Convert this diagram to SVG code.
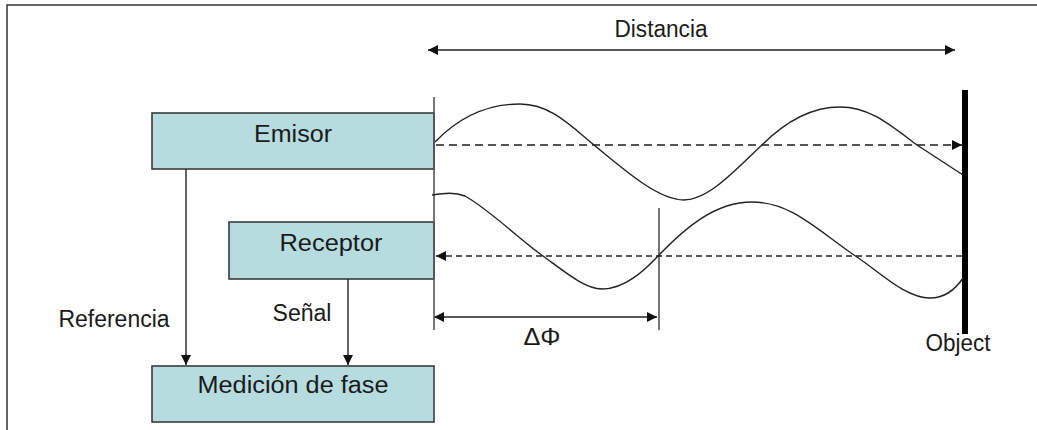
<svg xmlns="http://www.w3.org/2000/svg" width="1037" height="430" viewBox="0 0 1037 430">
<style>
.box{fill:#b6dce0;stroke:#3a3a3a;stroke-width:1.6}
.t{font-family:"Liberation Sans",Arial,sans-serif;font-size:23px;fill:#1a1a1a;text-anchor:middle}
.ln{stroke:#222;stroke-width:1.4;fill:none}
.wave{stroke:#222;stroke-width:1.4;fill:none}
</style>
<defs>
<marker id="ah" viewBox="0 0 10 10" refX="10" refY="5" markerWidth="12" markerHeight="10" markerUnits="userSpaceOnUse" orient="auto-start-reverse">
<path d="M0,0 L10,5 L0,10 Z" fill="#111"/>
</marker>
</defs>
<rect width="1037" height="430" fill="#fff"/>
<path d="M7,430 V5 H1037" stroke="#333" stroke-width="1.5" fill="none"/>

<g id="emisor">
<rect class="box" x="152" y="113" width="282" height="56"/>
<text class="t" x="293" y="142" textLength="78" lengthAdjust="spacingAndGlyphs">Emisor</text>
</g>
<g id="receptor">
<rect class="box" x="229" y="222" width="205" height="57"/>
<text class="t" x="331" y="251" textLength="103" lengthAdjust="spacingAndGlyphs">Receptor</text>
</g>
<g id="medicion">
<rect class="box" x="152" y="366" width="282" height="56"/>
<text class="t" x="293" y="393" textLength="191" lengthAdjust="spacingAndGlyphs">Medición de fase</text>
</g>
<g id="object">
<rect x="962" y="90" width="6" height="244" fill="#000"/>
<text class="t" x="958" y="351" textLength="65" lengthAdjust="spacingAndGlyphs">Object</text>
</g>

<g id="connectors">
<line class="ln" x1="186" y1="169" x2="186" y2="365" marker-end="url(#ah)"/>
<line class="ln" x1="348" y1="279" x2="348" y2="365" marker-end="url(#ah)"/>
<line class="ln" x1="428" y1="50" x2="955" y2="50" marker-start="url(#ah)" marker-end="url(#ah)"/>
<line class="ln" x1="434" y1="317" x2="657" y2="317" marker-start="url(#ah)" marker-end="url(#ah)"/>
<line x1="434" y1="97" x2="434" y2="330" stroke="#555" stroke-width="1.6"/>
<line x1="659" y1="208" x2="659" y2="330" stroke="#555" stroke-width="1.6"/>
<line x1="436" y1="145" x2="962" y2="145" stroke="#555" stroke-width="2" stroke-dasharray="8,5" marker-end="url(#ah)"/>
<line x1="962" y1="256" x2="436" y2="256" stroke="#222" stroke-width="1.4" stroke-dasharray="6,4" marker-end="url(#ah)"/>
<path class="wave" d="M435,142 C460,116 488,104 520,104 C550,104 570,125 594,145 C630,175 660,200 684,200 C710,200 740,165 762,145 C785,122 810,107 840,107 C870,107 890,125 917,145 L963,175"/>
<path class="wave" d="M432,195 C445,193 455,192 465,196 C490,210 520,240 543,256 C565,272 585,289 602,289 C625,289 645,270 659,255 C685,228 715,202 752,202 C790,202 815,228 854,255 C880,272 905,298 930,298 C945,298 955,290 963,278"/>
</g>

<text class="t" x="661" y="37" textLength="93" lengthAdjust="spacingAndGlyphs">Distancia</text>
<text class="t" x="114" y="327" textLength="111" lengthAdjust="spacingAndGlyphs">Referencia</text>
<text class="t" x="302" y="321" textLength="59" lengthAdjust="spacingAndGlyphs">Señal</text>
<text class="t" x="542" y="345" textLength="37" lengthAdjust="spacingAndGlyphs">ΔΦ</text>
</svg>
